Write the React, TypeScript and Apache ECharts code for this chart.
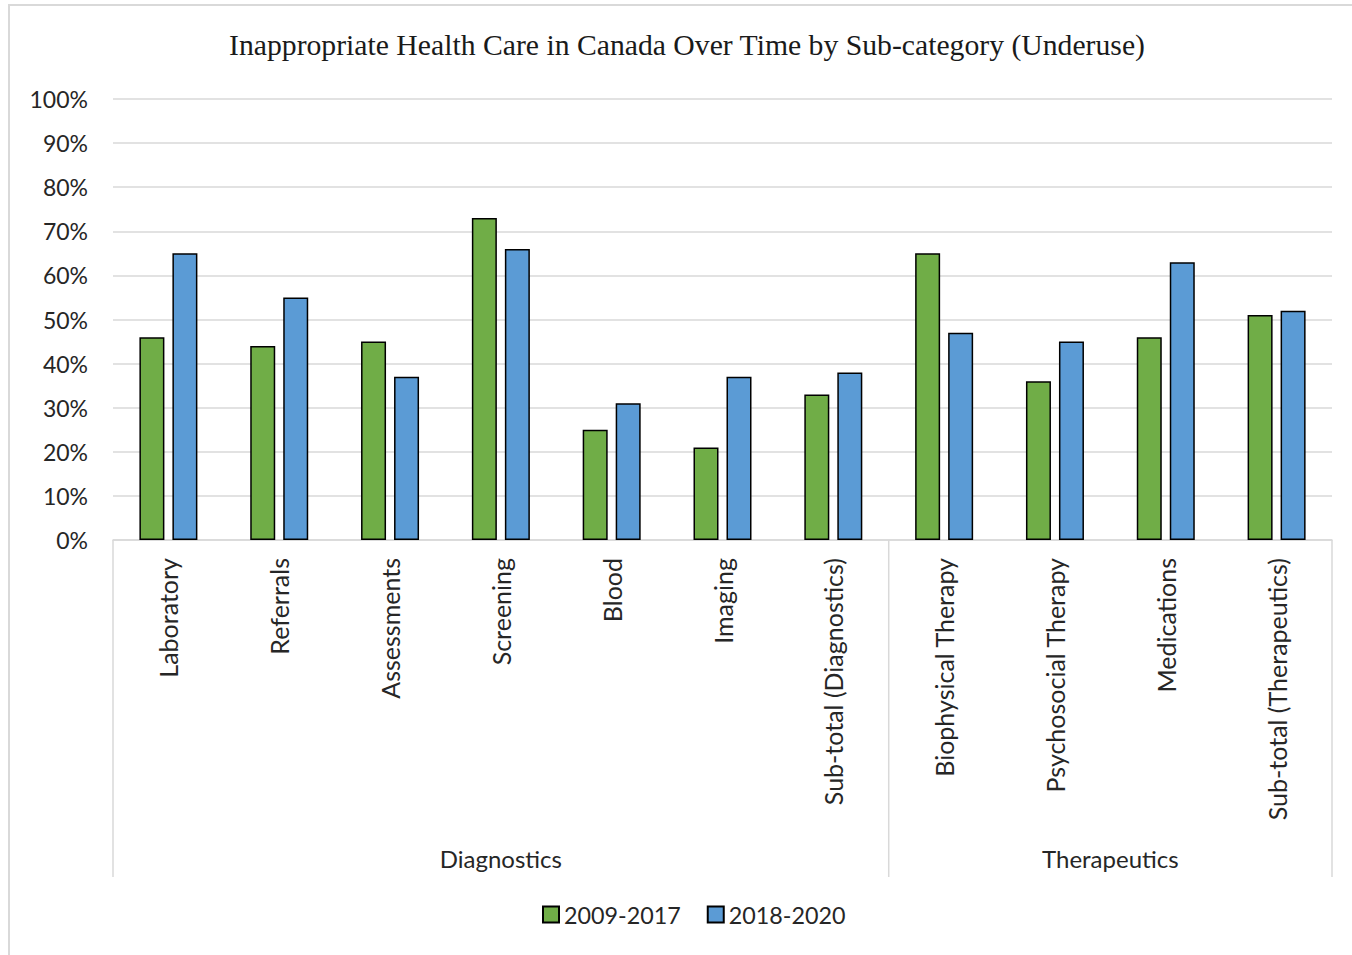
import React, { useEffect, useRef } from "react";
import * as echarts from "echarts";

const categories = [
  "Laboratory",
  "Referrals",
  "Assessments",
  "Screening",
  "Blood",
  "Imaging",
  "Sub-total (Diagnostics)",
  "Biophysical Therapy",
  "Psychosocial Therapy",
  "Medications",
  "Sub-total (Therapeutics)",
];
const groups = [
  { name: "Diagnostics", start: 0, end: 6 },
  { name: "Therapeutics", start: 7, end: 10 },
];
const series2009 = [0.46, 0.44, 0.45, 0.73, 0.25, 0.21, 0.33, 0.65, 0.36, 0.46, 0.51];
const series2018 = [0.65, 0.55, 0.37, 0.66, 0.31, 0.37, 0.38, 0.47, 0.45, 0.63, 0.52];
const seriesNames = ["2009-2017", "2018-2020"];
const title = "Inappropriate Health Care in Canada Over Time by Sub-category (Underuse)";

const FONT = "Lato";
const TXT = "#262626";
const GRID = "#d9d9d9";

export default function App() {
  const ref = useRef<HTMLDivElement>(null);
  useEffect(() => {
    if (!ref.current) return;
    const chart = echarts.init(ref.current, undefined, { renderer: "svg" });
    chart.setOption({
      animation: false,
      backgroundColor: "#fff",
      title: {
        text: title,
        left: 682,
        textAlign: "center",
        top: 25,
        textStyle: { fontFamily: "Liberation Serif", fontSize: 29.7, fontWeight: "normal", color: "#1a1a1a" },
      },
      legend: {
        data: seriesNames,
        left: 537,
        top: 898,
        icon: "rect",
        itemWidth: 16,
        itemHeight: 16,
        itemGap: 26,
        textStyle: { fontFamily: FONT, fontSize: 23.3, color: TXT },
      },
      grid: { left: 113, right: 20, top: 99, bottom: 415, containLabel: false },
      xAxis: {
        type: "category",
        data: categories,
        axisLine: { show: true, lineStyle: { color: GRID, width: 1.5 } },
        axisTick: { show: false },
        axisLabel: {
          interval: 0,
          rotate: 90,
          margin: 18,
          fontFamily: FONT,
          fontSize: 25,
          color: TXT,
        },
      },
      yAxis: {
        type: "value",
        min: 0,
        max: 1,
        interval: 0.1,
        axisLine: { show: false },
        axisTick: { show: false },
        splitLine: { lineStyle: { color: GRID, width: 1.5 } },
        axisLabel: {
          formatter: (v: number) => Math.round(v * 100) + "%",
          fontFamily: FONT,
          fontSize: 23,
          color: TXT,
          margin: 25,
          padding: [0, 0, 8, 0],
        },
      },
      series: [
        {
          name: seriesNames[0],
          type: "bar",
          data: series2009,
          barWidth: 25,
          barGap: "32%",
          itemStyle: { color: "#70AD47", borderColor: "#000", borderWidth: 1.5 },
        },
        {
          name: seriesNames[1],
          type: "bar",
          data: series2018,
          barWidth: 25,
          itemStyle: { color: "#5B9BD5", borderColor: "#000", borderWidth: 1.5 },
        },
      ],
    });

    const c0 = chart.convertToPixel({ xAxisIndex: 0 }, 0) as number;
    const c1 = chart.convertToPixel({ xAxisIndex: 0 }, 1) as number;
    const band = c1 - c0;
    const y0 = chart.convertToPixel({ yAxisIndex: 0 }, 0) as number;
    const yBottom = 877;
    const elements: any[] = [
      {
        type: "rect",
        shape: { x: 9, y: 5, width: 1345, height: 960 },
        style: { fill: "none", stroke: GRID, lineWidth: 2 },
        silent: true,
      },
    ];
    const boundaries = new Set<number>();
    groups.forEach((g) => {
      boundaries.add(g.start);
      boundaries.add(g.end + 1);
      const xs = c0 + (g.start - 0.5) * band;
      const xe = c0 + (g.end + 0.5) * band;
      elements.push({
        type: "text",
        x: (xs + xe) / 2,
        y: 858,
        style: {
          text: g.name,
          fontFamily: FONT,
          fontSize: 24,
          fill: TXT,
          align: "center",
          verticalAlign: "middle",
        },
      });
    });
    boundaries.forEach((b) => {
      const x = c0 + (b - 0.5) * band;
      elements.push({
        type: "line",
        shape: { x1: x, y1: y0, x2: x, y2: yBottom },
        style: { stroke: GRID, lineWidth: 1.5 },
        silent: true,
      });
    });
    chart.setOption({ graphic: { elements } });

    return () => chart.dispose();
  }, []);
  return (
    <div
      ref={ref}
      style={{ position: "absolute", left: 0, top: 0, width: 1352, height: 955 }}
    />
  );
}
